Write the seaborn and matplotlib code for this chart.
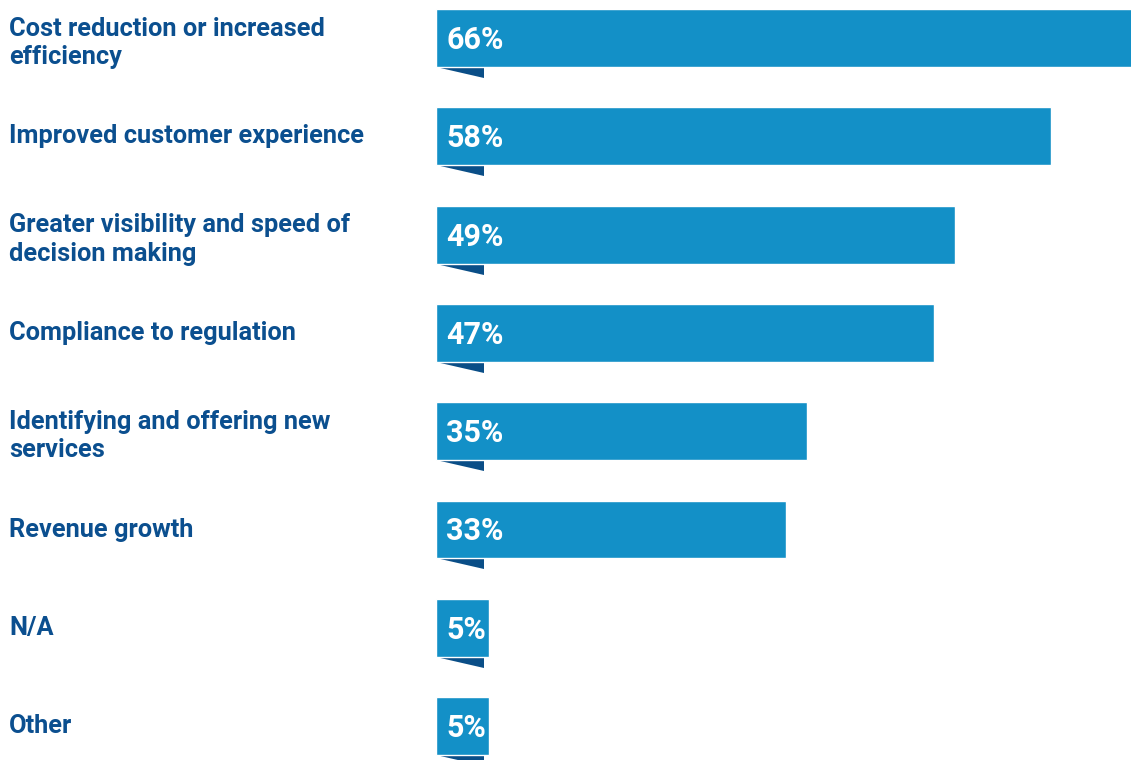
import matplotlib
matplotlib.use("Agg")
import matplotlib.pyplot as plt
import matplotlib.transforms as mtransforms
import seaborn as sns
import pandas as pd

# Survey results: benefits expected
categories = [
    "Cost reduction or increased\nefficiency",
    "Improved customer experience",
    "Greater visibility and speed of\ndecision making",
    "Compliance to regulation",
    "Identifying and offering new\nservices",
    "Revenue growth",
    "N/A",
    "Other",
]
values = [66, 58, 49, 47, 35, 33, 5, 5]
value_labels = [f"{v}%" for v in values]

BAR_COLOR = "#1390c7"
FOLD_COLOR = "#0a4e87"
TEXT_COLOR = "#0b4f8f"

sns.set_theme(style="white")
plt.rcParams["font.family"] = ["Roboto", "DejaVu Sans"]

W, H, DPI = 1131, 760, 100
fig = plt.figure(figsize=(W / DPI, H / DPI), dpi=DPI)
fig.patch.set_facecolor("white")

left_px = 436
ax = fig.add_axes([left_px / W, 0, 1 - left_px / W, 1])
ax.set_facecolor("white")

df = pd.DataFrame({"category": categories, "value": values})
sns.barplot(data=df, x="value", y="category", orient="h", color=BAR_COLOR,
            saturation=1, width=0.59, ax=ax)

px_per_unit = 10.6
pitch_px = 98.3
first_center_px = 38
ax.set_xlim(0, (W - left_px) / px_per_unit)
ax.set_ylim((H - first_center_px) / pitch_px, -first_center_px / pitch_px)
ax.axis("off")

# folded ribbon tail under each bar
fold_w = 48 / px_per_unit
fold_h = 11 / pitch_px
for patch in ax.patches[:len(values)]:
    x0 = patch.get_x()
    yb = patch.get_y() + patch.get_height()
    ax.fill([x0, x0 + fold_w, x0 + fold_w], [yb, yb, yb + fold_h],
            color=FOLD_COLOR, lw=0, clip_on=False, zorder=1)
    patch.set_zorder(2)

# value labels inside bars
for i, lab in enumerate(value_labels):
    ax.text(10 / px_per_unit, i + 0.02, lab, color="white", fontsize=22,
            fontweight="bold", va="center", ha="left", zorder=3)

# category labels on the left
trans = mtransforms.blended_transform_factory(fig.transFigure, ax.transData)
for i, cat in enumerate(categories):
    shift = 0.05 if "\n" in cat else 0.0
    ax.text(9 / W, i + shift, cat, transform=trans, color=TEXT_COLOR,
            fontsize=18.3, fontweight="bold", va="center", ha="left",
            linespacing=1.22, clip_on=False)

fig.savefig("out.png", dpi=DPI, facecolor="white")
